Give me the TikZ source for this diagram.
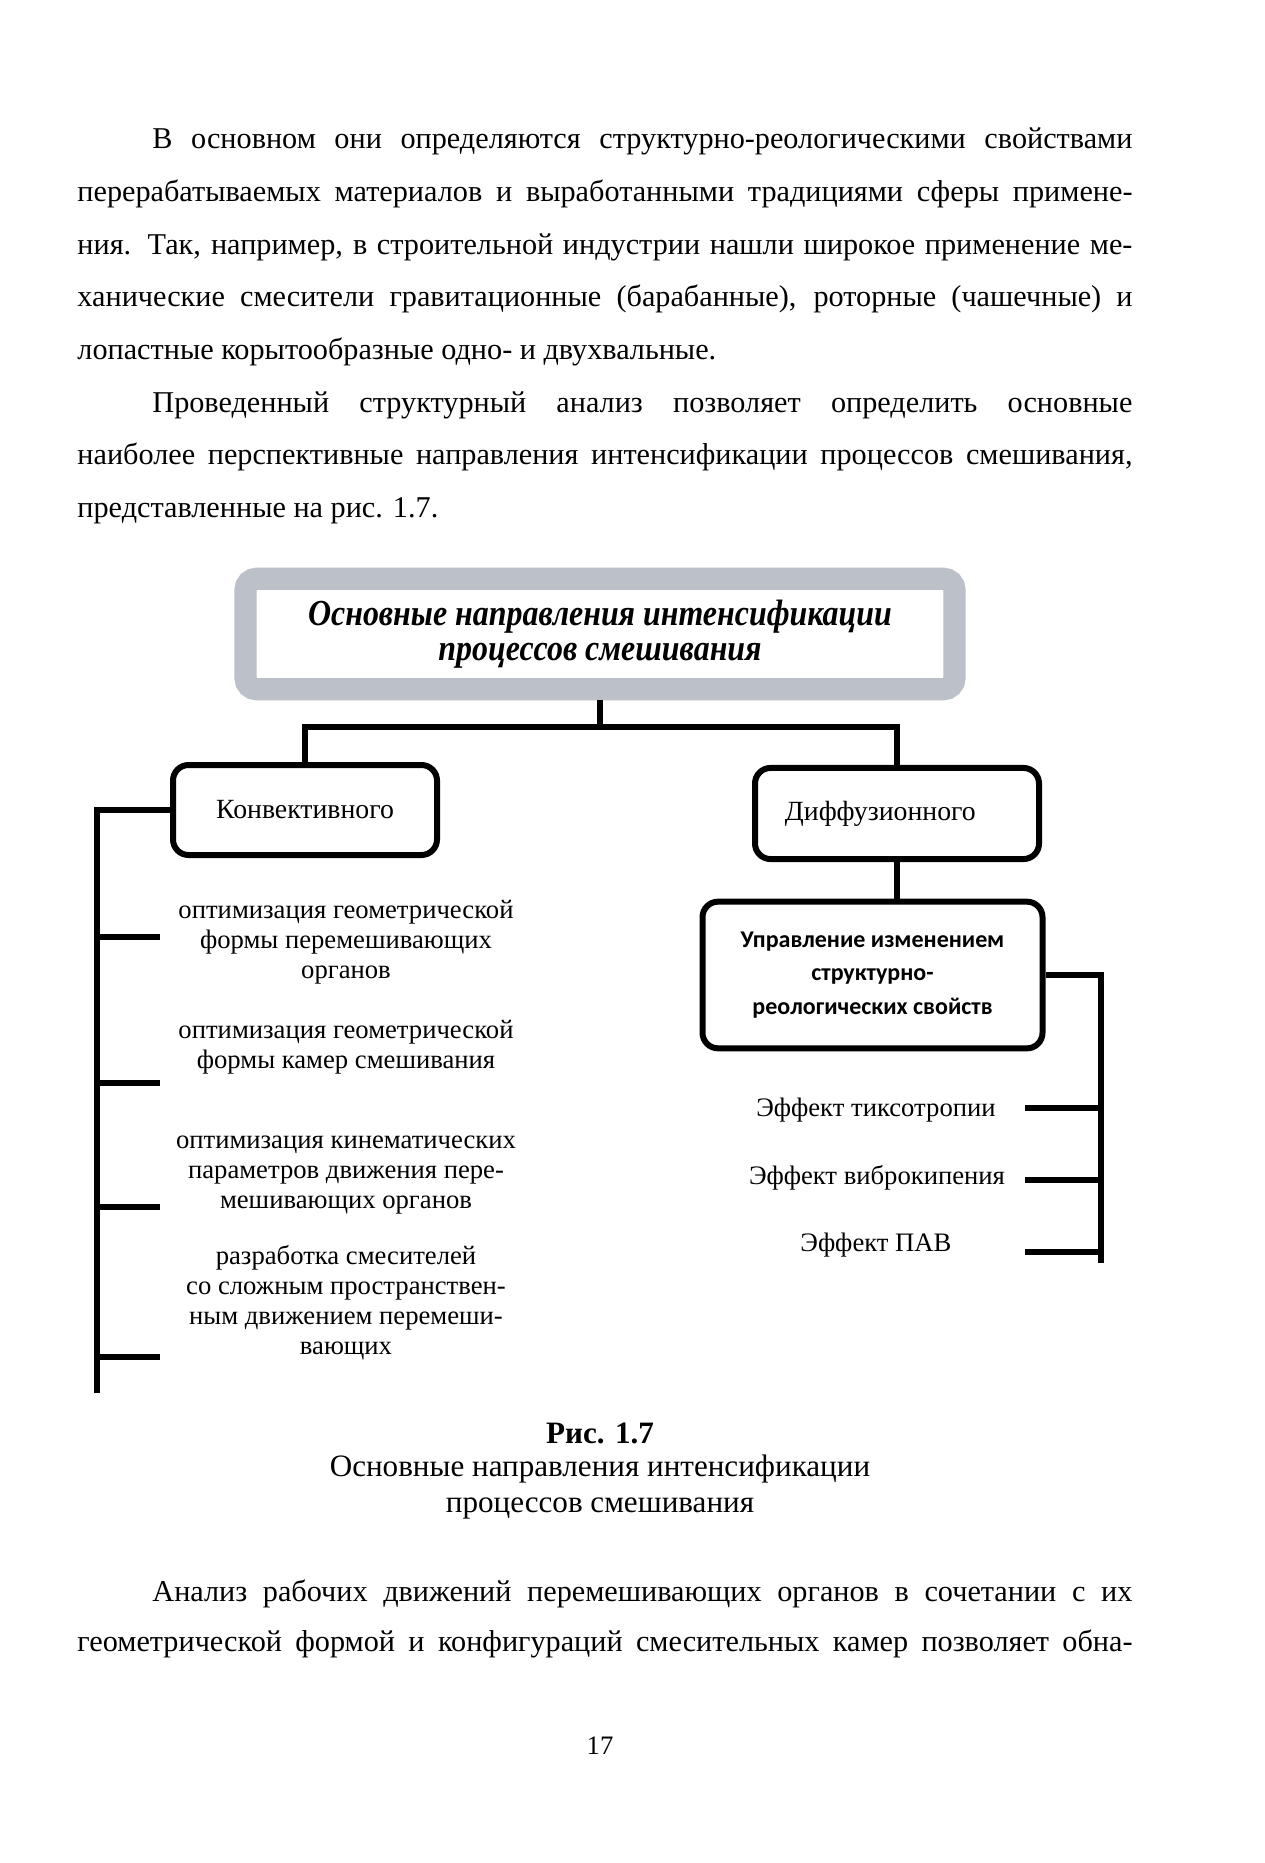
\documentclass[tikz,border=0pt]{standalone}
\usepackage{graphicx}
\usepackage{fontspec}
\setmainfont{Liberation Serif}[
  BoldFont={Liberation Serif Bold},
  ItalicFont={Liberation Serif Italic},
  BoldItalicFont={Liberation Serif Bold Italic}]
\newfontfamily\calibri{Carlito}
\usetikzlibrary{positioning}

\definecolor{framegray}{RGB}{188,192,200}

\newcommand{\narrow}[1]{\scalebox{0.87}[1]{#1}}

\tikzset{
  titlebox/.style={draw=framegray, line width=10pt, rounded corners=5pt, align=center,
    inner sep=0pt, font=\fontsize{16.5}{15.8}\selectfont\bfseries\itshape},
  box/.style={draw, line width=2.7pt, rounded corners=7pt, fill=white, align=center,
    inner sep=0pt, font=\fontsize{12.5}{15}\selectfont},
  wire/.style={line width=2.3pt},
  item/.style={align=center, inner sep=0pt, font=\fontsize{12}{13.5}\selectfont},
  bodyline/.style={anchor=base west, inner sep=0pt, font=\fontsize{13.6}{16}\selectfont},
  caption/.style={anchor=base, inner sep=0pt, font=\fontsize{14}{16}\selectfont},
}

\begin{document}
\begin{tikzpicture}[x=0.45pt, y=-0.45pt]
  \useasboundingbox[fill=white] (0,0) rectangle (1264,1863);

  % Text above the figure
  \node[bodyline] (p1) at (152,149) {\makebox[441pt][s]{В основном они определяются структурно-реологическими свойствами}};
  \node[bodyline] (p2) at (77,201.6) {\makebox[474.8pt][s]{перерабатываемых материалов и выработанными традициями сферы примене-}};
  \node[bodyline] (p3) at (77,254.2) {\makebox[474.8pt][s]{ния. Так, например, в строительной индустрии нашли широкое применение ме-}};
  \node[bodyline] (p4) at (77,306.8) {\makebox[474.8pt][s]{ханические смесители гравитационные (барабанные), роторные (чашечные) и}};
  \node[bodyline] (p5) at (77,359.4) {лопастные корытообразные одно- и двухвальные.};
  \node[bodyline] (p6) at (152,412) {\makebox[441pt][s]{Проведенный структурный анализ позволяет определить основные}};
  \node[bodyline] (p7) at (77,464.6) {\makebox[474.8pt][s]{наиболее перспективные направления интенсификации процессов смешивания,}};
  \node[bodyline] (p8) at (77,517.2) {представленные на рис. 1.7.};

  % Title box
  \node[titlebox, minimum width=319pt, minimum height=49.7pt] (main) at (600,634)
    {\narrow{Основные направления интенсификации}\\\narrow{процессов смешивания}};

  % Two kinds of mixing
  \node[box, minimum width=118.8pt, minimum height=40.5pt] (conv) at (305,810) {Конвективного};
  \node[box, minimum width=127.8pt, minimum height=41pt] (diff) at (897,813.5) {\hspace*{-15pt}Диффузионного};
  \node[box, minimum width=153pt, minimum height=66pt, font=\fontsize{10.8}{15}\selectfont\calibri\bfseries] (rheo) at (872.5,975)
    {Управление изменением\\структурно-\\реологических свойств};

  % Branching under the title
  \coordinate (fork) at (600,727);
  \draw[wire] (main.south) -- (fork);
  \draw[wire] (conv.north) |- (fork) -| (diff.north);
  \draw[wire] (diff.south) -- (diff.south |- rheo.north);

  % Left list
  \node[item] (c1) at (346,942) {оптимизация геометрической\\формы перемешивающих\\органов};
  \node[item] (c2) at (346,1047.5) {оптимизация геометрической\\формы камер смешивания};
  \node[item] (c3) at (346,1175) {оптимизация кинематических\\параметров движения пере-\\мешивающих органов};
  \node[item] (c4) at (346,1302.5) {разработка смесителей\\со сложным пространствен-\\ным движением перемеши-\\вающих};

  \coordinate (lbot) at (97,1393);
  \draw[wire] (conv.west) -| (lbot);
  \foreach \y [count=\i] in {937,1083,1207,1357} {
    \coordinate (lt\i) at (160,\y);
    \draw[wire] (lt\i) -- (lbot |- lt\i);
  }

  % Right list
  \node[item] (e1) at (876,1110) {Эффект тиксотропии};
  \node[item] (e2) at (877,1178) {Эффект виброкипения};
  \node[item] (e3) at (876,1245) {Эффект ПАВ};

  \coordinate (rbot) at (1101,1263);
  \draw[wire] (rheo.east) -| (rbot);
  \foreach \y [count=\i] in {1108,1180,1252} {
    \coordinate (rt\i) at (1025,\y);
    \draw[wire] (rt\i) -- (rbot |- rt\i);
  }

  % Caption
  \node[caption, font=\fontsize{14}{16}\selectfont\bfseries] (fig) at (600,1443) {Рис. 1.7};
  \node[caption] (cap1) at (600,1476) {Основные направления интенсификации};
  \node[caption] (cap2) at (600,1512) {процессов смешивания};

  % Text below the figure
  \node[bodyline] (q1) at (152,1601) {\makebox[441pt][s]{Анализ рабочих движений перемешивающих органов в сочетании с их}};
  \node[bodyline] (q2) at (77,1651) {\makebox[474.8pt][s]{геометрической формой и конфигураций смесительных камер позволяет обна-}};

  \node[caption, font=\fontsize{12}{14}\selectfont] (page) at (600,1754) {17};
\end{tikzpicture}
\end{document}
